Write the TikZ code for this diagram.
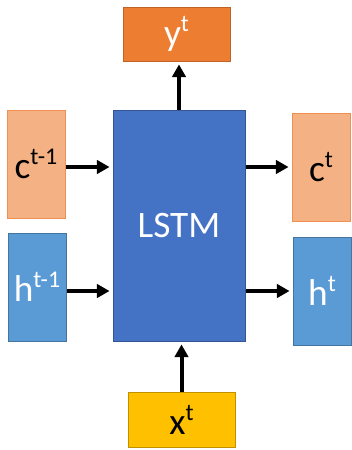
\documentclass[tikz,border=0pt]{standalone}
\usepackage{fontspec}
\setmainfont{Carlito}
\usetikzlibrary{arrows.meta}

\definecolor{yorange}{RGB}{237,125,49}
\definecolor{ylorange}{RGB}{244,177,131}
\definecolor{lstmblue}{RGB}{68,114,196}
\definecolor{hblue}{RGB}{91,155,213}
\definecolor{xgold}{RGB}{255,192,0}

\newcommand\supidx[1]{\raisebox{0.38em}{\fontsize{18}{20}\selectfont #1}}

\tikzset{every picture/.style={line width=0.75pt}}
\tikzset{
  cell/.style={draw, inner sep=0pt, font=\fontsize{28}{32}\selectfont},
  smallbox/.style={cell, minimum width=43.5pt, minimum height=81pt},
  widebox/.style={cell, minimum width=80.25pt, minimum height=40.5pt},
  flow/.style={line width=3pt, -{Triangle[length=9.5pt,width=10pt]}, shorten >=2.2pt}
}

\begin{document}
\begin{tikzpicture}[x=0.75pt,y=0.75pt,yscale=-1,xscale=1]
\useasboundingbox (0,0) rectangle (352,450);
\fill[white] (0,0) rectangle (352,450);

% Boxes
\node (lstm) [cell, fill=lstmblue, draw=lstmblue!75!black, text=white,
  minimum width=99pt, minimum height=173.25pt] at (179,225.5) {LSTM};
\node (ybox) [widebox, fill=yorange, draw=yorange!80!black, text=white] at (176.5,34) {y\supidx{t}};
\node (cprev) [smallbox, fill=ylorange, draw=yorange!85!white] at (36,164) {c\supidx{t-1}};
\node (cnext) [smallbox, fill=ylorange, draw=yorange!85!white] at (321,167) {c\supidx{t}};
\node (hprev) [smallbox, fill=hblue, draw=hblue!75!black, text=white] at (37,287) {h\supidx{t-1}};
\node (hnext) [smallbox, fill=hblue, draw=hblue!75!black, text=white] at (322,291) {h\supidx{t}};
\node (xbox) [widebox, minimum height=41.25pt, fill=xgold, draw=xgold!75!black] at (181.5,419.5) {x\supidx{t}};

% Arrows
\draw[flow] (lstm.north) -- (lstm.north |- ybox.south);
\draw[flow] (cnext -| cprev.east) -- (cnext -| lstm.west);
\draw[flow] (cnext -| lstm.east) -- (cnext.west);
\draw[flow] (hnext -| hprev.east) -- (hnext -| lstm.west);
\draw[flow] (hnext -| lstm.east) -- (hnext.west);
\draw[flow] (xbox.north) -- (xbox.north |- lstm.south);

\end{tikzpicture}
\end{document}
